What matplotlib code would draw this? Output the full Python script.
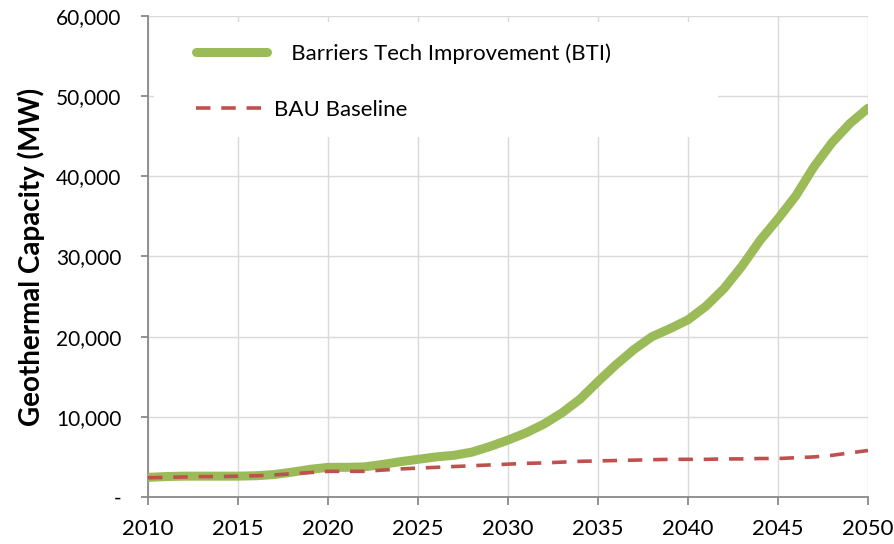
import matplotlib
matplotlib.use('Agg')
import matplotlib.pyplot as plt
from matplotlib.ticker import FuncFormatter, MultipleLocator
from matplotlib.patches import Rectangle

plt.rcParams['font.family'] = ['Lato', 'DejaVu Sans']

years = list(range(2010, 2051))
bti = [2450, 2550, 2600, 2600, 2600, 2600, 2650, 2800, 3100, 3450,
       3700, 3700, 3750, 4050, 4400, 4700, 5000, 5200, 5600, 6300,
       7100, 8000, 9100, 10500, 12200, 14400, 16500, 18400, 20000, 21000,
       22100, 23800, 26000, 28800, 32000, 34700, 37600, 41200, 44200, 46600,
       48500]
bau = [2400, 2450, 2500, 2550, 2550, 2600, 2650, 2750, 2900, 3050,
       3200, 3200, 3200, 3350, 3500, 3600, 3700, 3800, 3900, 4000,
       4100, 4200, 4250, 4350, 4450, 4500, 4550, 4600, 4650, 4700,
       4700, 4700, 4750, 4750, 4800, 4800, 4900, 5000, 5200, 5500,
       5800]

fig = plt.figure(figsize=(8.95, 5.44), dpi=100)
ax = fig.add_axes([0.1654, 0.0864, 0.8044, 0.8842])

ax.plot(years, bti, color='#9BBB59', lw=6.5, solid_capstyle='round',
        solid_joinstyle='round', label='   Barriers Tech Improvement (BTI)', zorder=3)
ax.plot(years, bau, color='#C0504D', lw=2.6, dashes=(4, 3), label='BAU Baseline', zorder=4)

ax.set_xlim(2010, 2050)
ax.set_ylim(0, 60000)
ax.xaxis.set_major_locator(MultipleLocator(5))
ax.yaxis.set_major_locator(MultipleLocator(10000))
ax.yaxis.set_major_formatter(FuncFormatter(lambda v, p: '-' if v == 0 else f'{v:,.0f}'))

ax.grid(True, color='#D9D9D9', lw=1)
ax.set_axisbelow(True)
for s in ['top', 'right']:
    ax.spines[s].set_visible(False)
for s in ['left', 'bottom']:
    ax.spines[s].set_color('#898989')
    ax.spines[s].set_linewidth(1.3)
ax.tick_params(axis='x', length=6, width=1.3, color='#898989', labelsize=16, pad=10)
ax.tick_params(axis='y', length=5, width=1.3, color='#898989', labelsize=15, pad=14)
ax.set_ylabel('Geothermal Capacity (MW)', fontsize=20, fontweight='bold', labelpad=8)

# white background behind the legend
ax.add_patch(Rectangle((0.008, 0.748), 0.783, 0.24, transform=ax.transAxes,
                       facecolor='white', edgecolor='none', zorder=2))
ax.legend(loc='upper left', bbox_to_anchor=(0.039, 0.985), frameon=False,
          fontsize=16, handlelength=3.2, handletextpad=0.3, labelspacing=1.62)

fig.savefig('out.png', dpi=100)
